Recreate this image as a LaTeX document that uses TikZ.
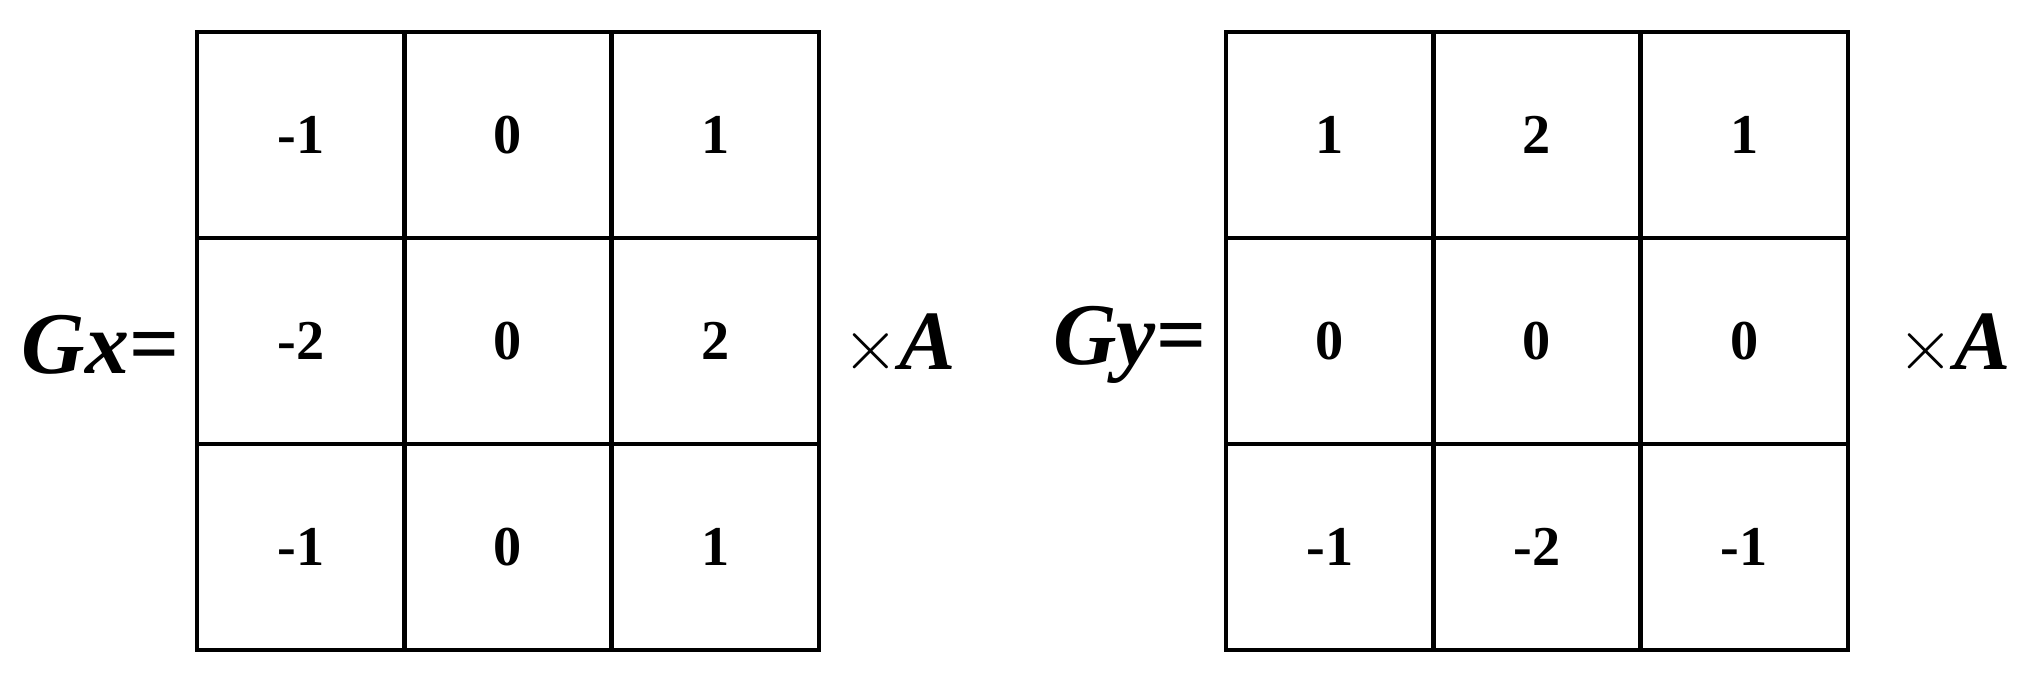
\documentclass[tikz,border=0pt]{standalone}
\usepackage{fontspec}
\setmainfont{Liberation Serif}
\begin{document}
\begin{tikzpicture}[x=0.01cm,y=-0.01cm,
  cell/.style={draw,line width=1.2pt,minimum width=2.073cm,minimum height=2.06cm,inner sep=0pt,font=\fontsize{16}{18}\selectfont\bfseries},
  lbl/.style={inner sep=0pt,font=\fontsize{25}{30}\selectfont},
  tlbl/.style={inner sep=0pt,font=\fontsize{24}{30}\selectfont}]
\useasboundingbox (0,0) rectangle (2017,682);
\foreach \v [count=\i from 0] in {-1,0,1,-2,0,2,-1,0,1}{
  \pgfmathtruncatemacro\c{mod(\i,3)}\pgfmathtruncatemacro\r{div(\i,3)}
  \node[cell] (L\i) at ({197+103.7+207.3*\c},{32+103+206*\r}) {\v};
}
\foreach \v [count=\i from 0] in {1,2,1,0,0,0,-1,-2,-1}{
  \pgfmathtruncatemacro\c{mod(\i,3)}\pgfmathtruncatemacro\r{div(\i,3)}
  \node[cell] (R\i) at ({1226+103.7+207.3*\c},{32+103+206*\r}) {\v};
}
\node[lbl,anchor=east] (gx) at (180,345) {\textbf{\textit{Gx}}\textbf{=}};
\node[tlbl,anchor=west] (ax) at (842,345) {{\fontsize{20}{24}\selectfont$\times$}\textbf{\textit{A}}};
\node[lbl,anchor=east] (gy) at (1207,345) {\textbf{\textit{Gy}}\textbf{=}};
\node[tlbl,anchor=west] (ay) at (1897,345) {{\fontsize{20}{24}\selectfont$\times$}\textbf{\textit{A}}};
\end{tikzpicture}
\end{document}
